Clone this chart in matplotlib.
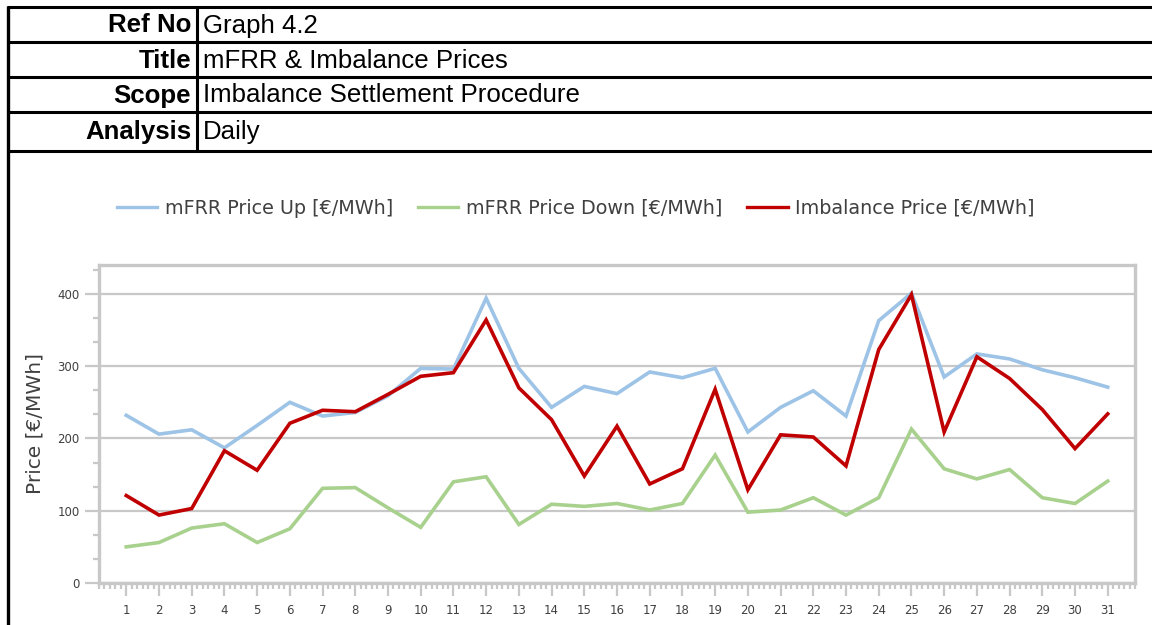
import matplotlib
matplotlib.use("Agg")
import matplotlib.pyplot as plt
from matplotlib.lines import Line2D
from matplotlib.ticker import MultipleLocator

# Daily prices for the month
days = list(range(1, 32))
mfrr_up = [232, 206, 212, 187, 218, 250, 231, 236, 259, 297, 296, 394, 297, 243, 272,
           262, 292, 284, 297, 209, 243, 266, 231, 363, 401, 285, 317, 310, 295, 284, 271]
mfrr_down = [50, 56, 76, 82, 56, 75, 131, 132, 104, 77, 140, 147, 81, 109, 106,
             110, 101, 110, 177, 98, 101, 118, 94, 118, 213, 158, 144, 157, 118, 110, 141]
imbalance = [121, 94, 103, 183, 156, 221, 239, 237, 261, 286, 291, 364, 270, 226, 148,
             217, 137, 158, 268, 129, 205, 202, 162, 323, 399, 209, 313, 283, 240, 186, 234]

series_names = ["mFRR Price Up [€/MWh]", "mFRR Price Down [€/MWh]", "Imbalance Price [€/MWh]"]
series_colors = ["#9DC3E6", "#A9D18E", "#C00000"]

header_keys = ["Ref No", "Title", "Scope", "Analysis"]
header_vals = ["Graph 4.2", "mFRR & Imbalance Prices", "Imbalance Settlement Procedure", "Daily"]

W, H = 1152, 625
fig = plt.figure(figsize=(W / 100, H / 100), dpi=100)
fig.patch.set_facecolor("white")


def fx(px):
    return px / W


def fy(py):
    return 1 - py / H


# Header table frame
row_lines = [7, 42, 77, 112, 151]
for yy in row_lines:
    fig.add_artist(Line2D([fx(7), 1.0], [fy(yy), fy(yy)], color="black", lw=2.2,
                          solid_capstyle="butt"))
fig.add_artist(Line2D([fx(8), fx(8)], [fy(6), 0.0], color="black", lw=2.4, solid_capstyle="butt"))
fig.add_artist(Line2D([fx(197), fx(197)], [fy(6), fy(151)], color="black", lw=2.2,
                      solid_capstyle="butt"))

for i, (k, v) in enumerate(zip(header_keys, header_vals)):
    yc = (row_lines[i] + row_lines[i + 1]) / 2 + 1
    fig.text(fx(191), fy(yc), k, ha="right", va="center", fontsize=18.6,
             fontweight="bold", family="Liberation Sans", color="black")
    fig.text(fx(203), fy(yc), v, ha="left", va="center", fontsize=18.6,
             family="Liberation Sans", color="black")

# Chart
ax = fig.add_axes([fx(99), fy(583), fx(1135) - fx(99), fy(265) - fy(583)])
for vals, name, col in zip([mfrr_up, mfrr_down, imbalance], series_names, series_colors):
    ax.plot(days, vals, color=col, lw=2.6, label=name, solid_joinstyle="miter", zorder=3)

ax.set_xlim(1 - 5 / 6, 31 + 5 / 6)
ax.set_ylim(0, 440)
ax.yaxis.set_major_locator(MultipleLocator(100))
ax.yaxis.set_minor_locator(MultipleLocator(100 / 3))
ax.xaxis.set_minor_locator(MultipleLocator(1 / 6))
ax.set_xticks(days)
ax.set_xticklabels([str(d) for d in days])

grid_col = "#C8C8C8"
ax.grid(axis="y", which="major", color=grid_col, lw=1.6, zorder=1)
for s in ax.spines.values():
    s.set_color(grid_col)
    s.set_linewidth(2.4)

ax.tick_params(axis="y", which="major", length=10, width=1.6, color=grid_col,
               labelsize=8.5, labelcolor="#404040", pad=4)
ax.tick_params(axis="y", which="minor", length=4, width=1.6, color=grid_col)
ax.tick_params(axis="x", which="major", length=9, width=1.6, color=grid_col,
               labelsize=8.5, labelcolor="#404040", pad=6)
ax.tick_params(axis="x", which="minor", length=4, width=1.6, color=grid_col)
for lab in ax.get_xticklabels() + ax.get_yticklabels():
    lab.set_family("DejaVu Sans")

# Y axis title placed in figure coordinates
fig.text(fx(35), fy(424), "Price [€/MWh]", rotation=90, ha="center", va="center",
         fontsize=14.5, color="#404040", family="DejaVu Sans")

handles, labels = ax.get_legend_handles_labels()
leg = fig.legend(handles, labels, loc="center", ncol=3, frameon=False,
                 bbox_to_anchor=(fx(576), fy(208)),
                 handlelength=2.1, columnspacing=1.3, handletextpad=0.4,
                 prop={"family": "DejaVu Sans", "size": 13.8})
for t in leg.get_texts():
    t.set_color("#404040")
for lh in leg.get_lines():
    lh.set_linewidth(2.4)

fig.savefig("out.png", dpi=100, facecolor="white")
